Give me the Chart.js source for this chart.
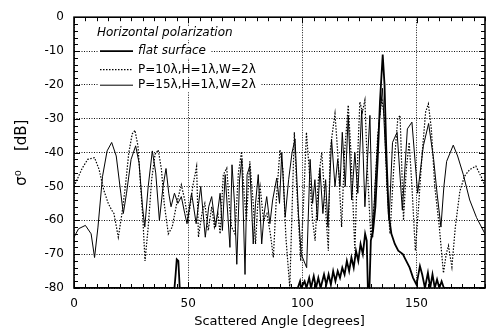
<!DOCTYPE html>
<html>
<head>
<meta charset="utf-8">
<script src="https://cdn.jsdelivr.net/npm/chart.js@4.4.1/dist/chart.umd.min.js"></script>
<style>
  html, body { margin: 0; padding: 0; background: #fff; }
  #wrap { width: 492px; height: 333px; }
</style>
</head>
<body>
<div id="wrap"><canvas id="grafico" width="492" height="333"></canvas></div>
<script>
// Valores (ângulo em graus, sigma0 em dB)
const flatAngle = [
  0, 44, 44.5, 45, 45.7, 46.3, 97, 98, 99, 99.5,
  101, 101.8, 103, 103.8, 105, 106, 107, 108, 109.5, 110.5,
  111.5, 112.5, 113.5, 114.5, 115.5, 116.5, 117.5, 118.5, 119.5, 120.5,
  121.5, 122.5, 123.5, 124.5, 125.5, 126.5, 127.5, 128.2, 128.7, 129.4,
  130, 131, 132, 133, 134, 135.2, 136, 136.8, 137.8, 139,
  140.5, 142, 144, 145.5, 147, 148.5, 150, 151.5, 152.5, 153.7,
  155, 156, 157, 158, 159, 160, 161, 162, 180
];
const flatDb = [
  -80, -80, -76, -71.5, -72, -80, -80, -80, -78, -80,
  -78, -80, -77, -80, -76.5, -80, -77, -80, -76, -79,
  -76, -79, -75, -78, -75, -77, -74, -76, -72, -75,
  -71, -74, -69, -72, -67, -70, -64, -66, -80, -80,
  -66, -63, -56, -42, -25, -11, -20, -40, -58, -64,
  -67, -69, -70, -72, -74, -77, -79, -73.5, -76, -80,
  -75.5, -80, -76, -80, -77.5, -80, -78, -80, -80
];

const p10Angle = [
  0, 3.6, 6, 9, 11, 13, 15, 16.5, 17.5, 19.4,
  21, 22.5, 24, 25.5, 26.7, 28, 29.2, 30.2, 31.1, 32.5,
  34, 35.5, 36.9, 38.3, 39.5, 41.3, 43, 45, 47, 48.5,
  50, 52, 53.7, 54.5, 56, 57.3, 58.8, 60.3, 61.5, 63,
  64, 65.4, 66.9, 68, 69, 70.5, 72, 73.4, 74.5, 75.5,
  77, 78.5, 79.5, 80.5, 81.5, 83, 84.5, 86, 87.3, 88.5,
  90.2, 91.5, 92.8, 94.5, 96.5, 97.5, 99.3, 100.5, 101.8, 103,
  104.5, 105.6, 107, 108.5, 110, 111.4, 112.1, 113, 114.3, 115.5,
  117.2, 118.5, 120.1, 121.3, 123, 124.3, 125.2, 126.3, 127.4, 128.5,
  130, 131.5, 133, 134.8, 136, 137, 138.4, 140, 141.8, 142.8,
  144.3, 145.5, 146.8, 148, 149.5, 151, 152.5, 154, 155.2, 156.5,
  158, 160, 161.8, 163, 164, 165.5, 167, 169, 171, 173.3,
  176, 178.6, 180
];
const p10Db = [
  -50, -44.6, -42, -41.5, -45, -51, -55, -57, -58, -65,
  -58, -50, -40, -34.5, -33.4, -38, -50, -60, -72, -62,
  -48, -40.5, -39.2, -45, -55, -64, -62, -55, -49.5, -54,
  -60, -50, -44.1, -65, -58, -55, -63, -56, -62, -58,
  -64, -46.5, -44.6, -55, -62, -64, -46, -39.7, -52, -60,
  -42.6, -55, -67, -55, -50, -60, -58, -64, -71, -55,
  -39.2, -45, -65, -80, -34, -50, -72, -55, -34, -45,
  -60, -66, -48, -40, -55, -69, -40, -35, -28.5, -40,
  -62, -40, -26, -40, -69, -40, -25, -28, -24.5, -45,
  -65, -55, -35, -24, -30, -50, -64, -45, -30, -29,
  -60, -45, -37, -50, -69, -55, -40, -28, -25.6, -33,
  -50, -62, -75.6, -70, -67.5, -73.8, -62, -51.4, -47, -45,
  -44, -47.5, -50
];

const p15Angle = [
  0, 2, 5, 7.5, 9, 10.5, 12.5, 14.5, 16.5, 18.5,
  20.5, 21.6, 23, 25, 27, 28.5, 30, 31, 32.5, 34.3,
  35.8, 37.4, 39, 40.3, 41.5, 42.5, 44, 45.5, 47, 48.5,
  49.5, 51.5, 53.5, 55.5, 57.5, 59, 60.3, 62, 64, 65,
  66.2, 68.3, 69.2, 70.3, 71.3, 72.5, 73.5, 74.9, 75.8, 77,
  78.5, 79.5, 80.7, 82.2, 83.3, 84.4, 85.8, 87, 88.8, 90,
  91, 92.5, 94, 95.5, 96.8, 98.3, 99.5, 101.9, 103.4, 104.5,
  105.5, 106.6, 107.7, 109, 110.2, 111.2, 112.8, 114.3, 115.5, 116.5,
  117.5, 118.8, 120.1, 121.6, 123, 124.3, 126, 127.4, 128.3, 129.6,
  130.8, 132, 133.5, 135.1, 136.3, 138, 139.5, 141.5, 143.8, 146,
  148, 150.5, 153, 155.3, 157.5, 159, 160.7, 162, 163.2, 166.1,
  168, 170.5, 173.3, 176.3, 180
];
const p15Db = [
  -65, -62.5, -61.5, -64, -71, -62, -47, -39.5, -37, -41,
  -52, -58, -52, -42, -38, -43, -56, -62, -50, -39.5,
  -46, -60, -50, -44.7, -52, -56, -52, -55, -53, -58,
  -61, -52, -61, -50, -65, -56, -53, -62, -52, -63,
  -46.5, -68, -43.6, -55, -73, -48, -42, -76, -46.5, -44,
  -67, -55, -46.5, -67, -58, -53, -61, -54, -47.5, -55,
  -40, -59, -48, -40, -36, -58, -70, -74, -42, -55,
  -48, -60, -44.6, -58, -48, -62, -36, -50, -42, -50,
  -34, -50, -29, -54, -40, -52, -27.5, -56, -45, -29,
  -65, -48, -32, -21, -38, -60, -37, -34, -57, -33,
  -31, -52, -38, -31.4, -42, -52, -62, -50, -42.6, -37.8,
  -41, -46.5, -54, -59.2, -64
];

const xTicks = [0, 50, 100, 150];
const yTicks = [0, -10, -20, -30, -40, -50, -60, -70, -80];

const legendTitle = "Horizontal polarization";
const legendLabels = ["flat surface", "P=10λ,H=1λ,W=2λ", "P=15λ,H=1λ,W=2λ"];

function pares(xs, ys) {
  return xs.map((x, i) => ({ x: x, y: ys[i] }));
}

const fonte = "'DejaVu Sans', sans-serif";

// Moldura com marcas internas e legenda desenhada dentro do gráfico
const moldura = {
  id: "moldura",
  afterDatasetsDraw(chart) {
    const { ctx, chartArea: a, scales } = chart;
    const sx = scales.x, sy = scales.y;
    ctx.save();
    ctx.strokeStyle = "#000";
    ctx.lineWidth = 1;
    ctx.beginPath();
    for (let v = 0; v <= 180; v += 5) {
      const px = Math.round(sx.getPixelForValue(v)) + 0.5;
      const len = v % 50 === 0 ? 6 : 4;
      ctx.moveTo(px, a.bottom); ctx.lineTo(px, a.bottom - len);
      ctx.moveTo(px, a.top); ctx.lineTo(px, a.top + len);
    }
    for (let v = -80; v <= 0; v += 2) {
      const py = Math.round(sy.getPixelForValue(v)) + 0.5;
      const len = v % 10 === 0 ? 6 : 4;
      ctx.moveTo(a.left, py); ctx.lineTo(a.left + len, py);
      ctx.moveTo(a.right, py); ctx.lineTo(a.right - len, py);
    }
    ctx.stroke();
    ctx.lineWidth = 1.6;
    ctx.strokeRect(a.left, a.top, a.right - a.left, a.bottom - a.top);

    // legenda
    const x0 = a.left + 26, x1 = a.left + 59, xt = a.left + 64;
    ctx.textBaseline = "middle";
    ctx.fillStyle = "#000";
    ctx.font = "italic 12px " + fonte;
    const tw = ctx.measureText(legendTitle).width;
    ctx.fillStyle = "#fff";
    ctx.fillRect(a.left + 21, a.top + 9, tw + 4, 14);
    ctx.fillStyle = "#000";
    ctx.fillText(legendTitle, a.left + 23, a.top + 16);

    const ys = [a.top + 34, a.top + 52.5, a.top + 68];
    const estilos = [
      { w: 1.8, dash: [] },
      { w: 1.2, dash: [1.5, 1.5] },
      { w: 1, dash: [] }
    ];
    legendLabels.forEach((txt, i) => {
      ctx.font = (i === 0 ? "italic " : "") + "12px " + fonte;
      const w = ctx.measureText(txt).width;
      ctx.fillStyle = "#fff";
      ctx.fillRect(x0 - 1, ys[i] - 7, xt - x0 + w + 6, 14);
      ctx.strokeStyle = "#000";
      ctx.lineWidth = estilos[i].w;
      ctx.setLineDash(estilos[i].dash);
      ctx.beginPath();
      ctx.moveTo(x0, ys[i]); ctx.lineTo(x1, ys[i]);
      ctx.stroke();
      ctx.setLineDash([]);
      ctx.fillStyle = "#000";
      ctx.fillText(txt, xt, ys[i]);
    });
    ctx.restore();
  }
};

const ctx = document.getElementById("grafico").getContext("2d");
new Chart(ctx, {
  type: "line",
  data: {
    datasets: [
      {
        label: legendLabels[1],
        data: pares(p10Angle, p10Db),
        borderColor: "#000",
        borderWidth: 1.2,
        borderDash: [1.5, 1.5],
        pointRadius: 0,
        tension: 0
      },
      {
        label: legendLabels[2],
        data: pares(p15Angle, p15Db),
        borderColor: "#000",
        borderWidth: 1,
        pointRadius: 0,
        tension: 0
      },
      {
        label: legendLabels[0],
        data: pares(flatAngle, flatDb),
        borderColor: "#000",
        borderWidth: 1.8,
        pointRadius: 0,
        tension: 0
      }
    ]
  },
  options: {
    responsive: false,
    animation: false,
    layout: { padding: { top: 14, right: 7, left: 0, bottom: 0 } },
    plugins: {
      legend: { display: false },
      tooltip: { enabled: false }
    },
    scales: {
      x: {
        type: "linear",
        min: 0,
        max: 180,
        afterBuildTicks(s) { s.ticks = xTicks.map(v => ({ value: v })); },
        afterFit(s) { s.height = 45; },
        ticks: { color: "#000", padding: 9, maxRotation: 0, font: { family: fonte, size: 12 } },
        grid: { color: "#111", lineWidth: 1, drawTicks: false },
        border: { display: false, dash: [1, 1.5] },
        title: {
          display: true,
          text: "Scattered Angle [degrees]",
          color: "#000",
          font: { family: fonte, size: 13 },
          padding: { top: 0, bottom: 4 }
        }
      },
      y: {
        type: "linear",
        min: -80,
        max: 0,
        afterBuildTicks(s) { s.ticks = yTicks.map(v => ({ value: v })); },
        afterFit(s) { s.width = 74; },
        ticks: { color: "#000", padding: 10, font: { family: fonte, size: 12 } },
        grid: { color: "#111", lineWidth: 1, drawTicks: false },
        border: { display: false, dash: [1, 1.5] },
        title: {
          display: true,
          text: "σ⁰    [dB]",
          color: "#000",
          font: { family: fonte, size: 15 },
          padding: { top: 13, bottom: 0 }
        }
      }
    }
  },
  plugins: [moldura]
});
</script>
</body>
</html>
